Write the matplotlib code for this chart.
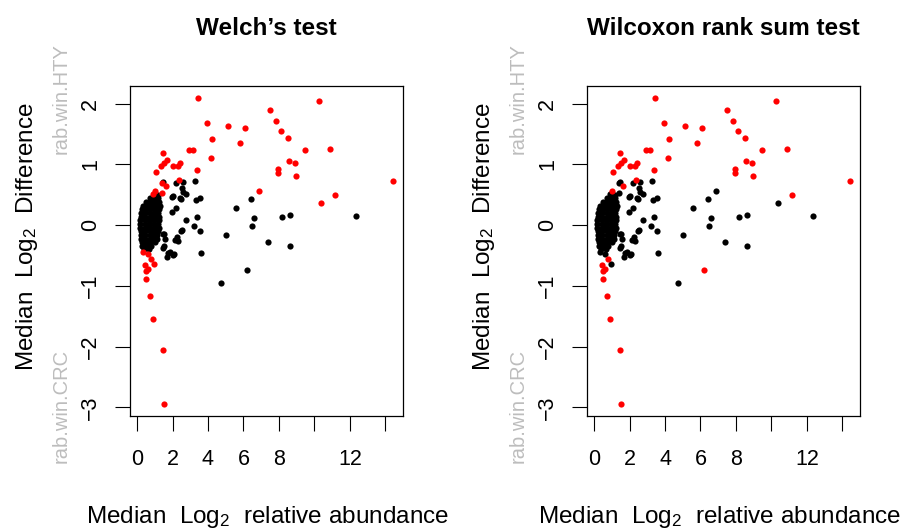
import matplotlib.pyplot as plt
import numpy as np

plt.rcParams['font.family'] = ['Liberation Sans', 'DejaVu Sans']
plt.rcParams['mathtext.fontset'] = 'custom'
plt.rcParams['mathtext.rm'] = 'Liberation Sans'

# features outside the dense core: median log2 abundance, median log2 difference
rab = [3.45, 10.25, 7.47, 7.83, 8.09, 3.92, 5.13, 6.08, 8.49, 4.25,
       5.83, 10.91, 9.45, 2.91, 3.17, 1.47, 4.17, 1.66, 8.57, 8.89,
       1.53, 1.36, 2.02, 2.30, 2.42, 7.94, 7.94, 3.36, 1.04, 8.94,
       14.45, 2.34, 6.85, 11.15, 10.38, 1.38, 1.62, 1.01, 0.90, 1.39,
       0.36, 0.62, 0.77, 0.47, 0.94, 0.60, 0.50, 0.53, 0.70, 0.87,
       1.45, 1.53,
       3.28, 2.58, 2.21, 2.55, 2.77, 1.98, 2.45, 3.53, 3.30, 2.21,
       6.45, 5.60, 6.62, 6.49, 8.19, 8.60, 12.34, 2.75, 3.38, 3.21,
       3.55, 2.49, 2.23, 2.28, 1.49, 5.04, 7.38, 8.64, 3.62, 2.11,
       1.74, 1.68, 1.51, 6.21, 4.75, 1.48, 2.05, 2.42, 2.61, 1.95,
       2.52, 1.48, 1.57, 2.14, 1.48, 1.86, 2.05]
diff = [2.09, 2.04, 1.90, 1.71, 1.55, 1.68, 1.63, 1.60, 1.43, 1.41,
        1.36, 1.26, 1.24, 1.23, 1.23, 1.18, 1.11, 1.07, 1.05, 1.03,
        1.02, 0.97, 0.97, 0.98, 1.03, 0.92, 0.86, 0.91, 0.87, 0.81,
        0.73, 0.75, 0.56, 0.50, 0.37, 0.69, 0.65, 0.57, 0.51, 0.53,
        -0.44, -0.47, -0.56, -0.66, -0.64, -0.72, -0.75, -0.88, -1.17, -1.55,
        -2.06, -2.95,
        0.73, 0.71, 0.70, 0.61, 0.51, 0.47, 0.43, 0.44, 0.41, 0.29,
        0.43, 0.28, 0.11, -0.02, 0.13, 0.17, 0.15, 0.09, 0.14, -0.02,
        -0.09, -0.09, -0.19, -0.26, -0.15, -0.16, -0.28, -0.34, -0.45, -0.48,
        -0.45, -0.52, -0.34, -0.74, -0.95, 0.71, 0.48, 0.44, 0.55, 0.22,
        -0.08, -0.14, -0.22, -0.25, -0.38, -0.44, -0.49]
welch_sig = [1] * 52 + [0] * 47
wilcox_sig = ([1] * 32 + [0, 1, 0, 0, 1, 1, 0, 0]
              + [0, 0, 1, 1, 0, 1, 1, 1, 1, 1, 1, 1]
              + [0] * 33 + [1] + [0] * 13)

# dense core of low-abundance features (not significant in either test)
core_x = [0.95, 1.2,
          0.7, 0.95, 1.2,
          0.5, 0.75, 1.0, 1.25,
          0.35, 0.6, 0.85, 1.1, 1.3,
          0.25, 0.5, 0.75, 1.0, 1.25,
          0.2, 0.45, 0.7, 0.95, 1.2,
          0.2, 0.45, 0.7, 0.95, 1.25,
          0.18, 0.45, 0.7, 0.95, 1.22,
          0.17, 0.42, 0.68, 0.95, 1.2,
          0.18, 0.45, 0.7, 0.95, 1.22,
          0.2, 0.45, 0.7, 0.95, 1.2,
          0.2, 0.45, 0.7, 0.95, 1.15,
          0.22, 0.47, 0.72, 0.97, 1.15,
          0.25, 0.5, 0.75, 1.0,
          0.3, 0.55, 0.8,
          0.4, 0.65]
core_y = [0.50, 0.50,
          0.44, 0.44, 0.44,
          0.38, 0.38, 0.38, 0.38,
          0.32, 0.32, 0.32, 0.32, 0.32,
          0.26, 0.26, 0.26, 0.26, 0.26,
          0.20, 0.20, 0.20, 0.20, 0.20,
          0.14, 0.14, 0.14, 0.14, 0.14,
          0.08, 0.08, 0.08, 0.08, 0.08,
          0.02, 0.02, 0.02, 0.02, 0.02,
          -0.04, -0.04, -0.04, -0.04, -0.04,
          -0.10, -0.10, -0.10, -0.10, -0.10,
          -0.16, -0.16, -0.16, -0.16, -0.16,
          -0.22, -0.22, -0.22, -0.22, -0.22,
          -0.28, -0.28, -0.28, -0.28,
          -0.34, -0.34, -0.34,
          -0.40, -0.40]

titles = ['Welch\u2019s test', 'Wilcoxon rank sum test']
xticks = [0, 2, 4, 6, 8, 10, 12, 14]
xticklabels = ['0', '2', '4', '6', '8', '', '12', '']
yticks = [-3, -2, -1, 0, 1, 2]

W, H = 906, 530
fig = plt.figure(figsize=(W / 100, H / 100), dpi=100)

x_all = np.array(core_x + rab)
y_all = np.array(core_y + diff)
sig_sets = [np.array([0] * len(core_x) + welch_sig, dtype=bool),
            np.array([0] * len(core_x) + wilcox_sig, dtype=bool)]

lefts = [130, 587]
xlab_centers = [268, 720]
for i in range(2):
    L = lefts[i]
    ax = fig.add_axes([L / W, (H - 416) / H, 273 / W, 330 / H])
    sig = sig_sets[i]
    ax.scatter(x_all[~sig], y_all[~sig], s=20, c='black', linewidths=0)
    ax.scatter(x_all[sig], y_all[sig], s=20, c='red', linewidths=0)
    ax.set_xlim(-0.4, 15.0)
    ax.set_ylim(-3.14, 2.29)
    ax.set_xticks(xticks)
    ax.set_xticklabels(xticklabels)
    ax.set_yticks(yticks)
    ax.tick_params(direction='out', length=10.8, width=0.8, labelsize=15.5)
    ax.tick_params(axis='x', pad=13)
    ax.tick_params(axis='y', pad=10, labelrotation=90)
    for lab in ax.get_yticklabels():
        lab.set_va('center')
    for sp in ax.spines.values():
        sp.set_linewidth(0.9)

    cx = (L + 136.5) / W
    fig.text(cx, 1 - 35 / H, titles[i], ha='center', va='baseline',
             fontsize=17.5, fontweight='bold')
    fig.text(xlab_centers[i] / W, 1 - 523 / H,
             r'Median  $\mathregular{Log_2}$  relative abundance',
             ha='center', va='baseline', fontsize=17.5)
    fig.text((L - 103) / W, 1 - 237 / H, r'Median  $\mathregular{Log_2}$  Difference',
             ha='center', va='center', rotation=90, fontsize=17.5)
    fig.text((L - 69) / W, 1 - 43 / H, 'rab.win.HTY', ha='center', va='top',
             rotation=90, fontsize=14.5, color='#bdbdbd')
    fig.text((L - 69) / W, 1 - 463 / H, 'rab.win.CRC', ha='center', va='bottom',
             rotation=90, fontsize=14.5, color='#bdbdbd')

fig.savefig('out.png', dpi=100)
